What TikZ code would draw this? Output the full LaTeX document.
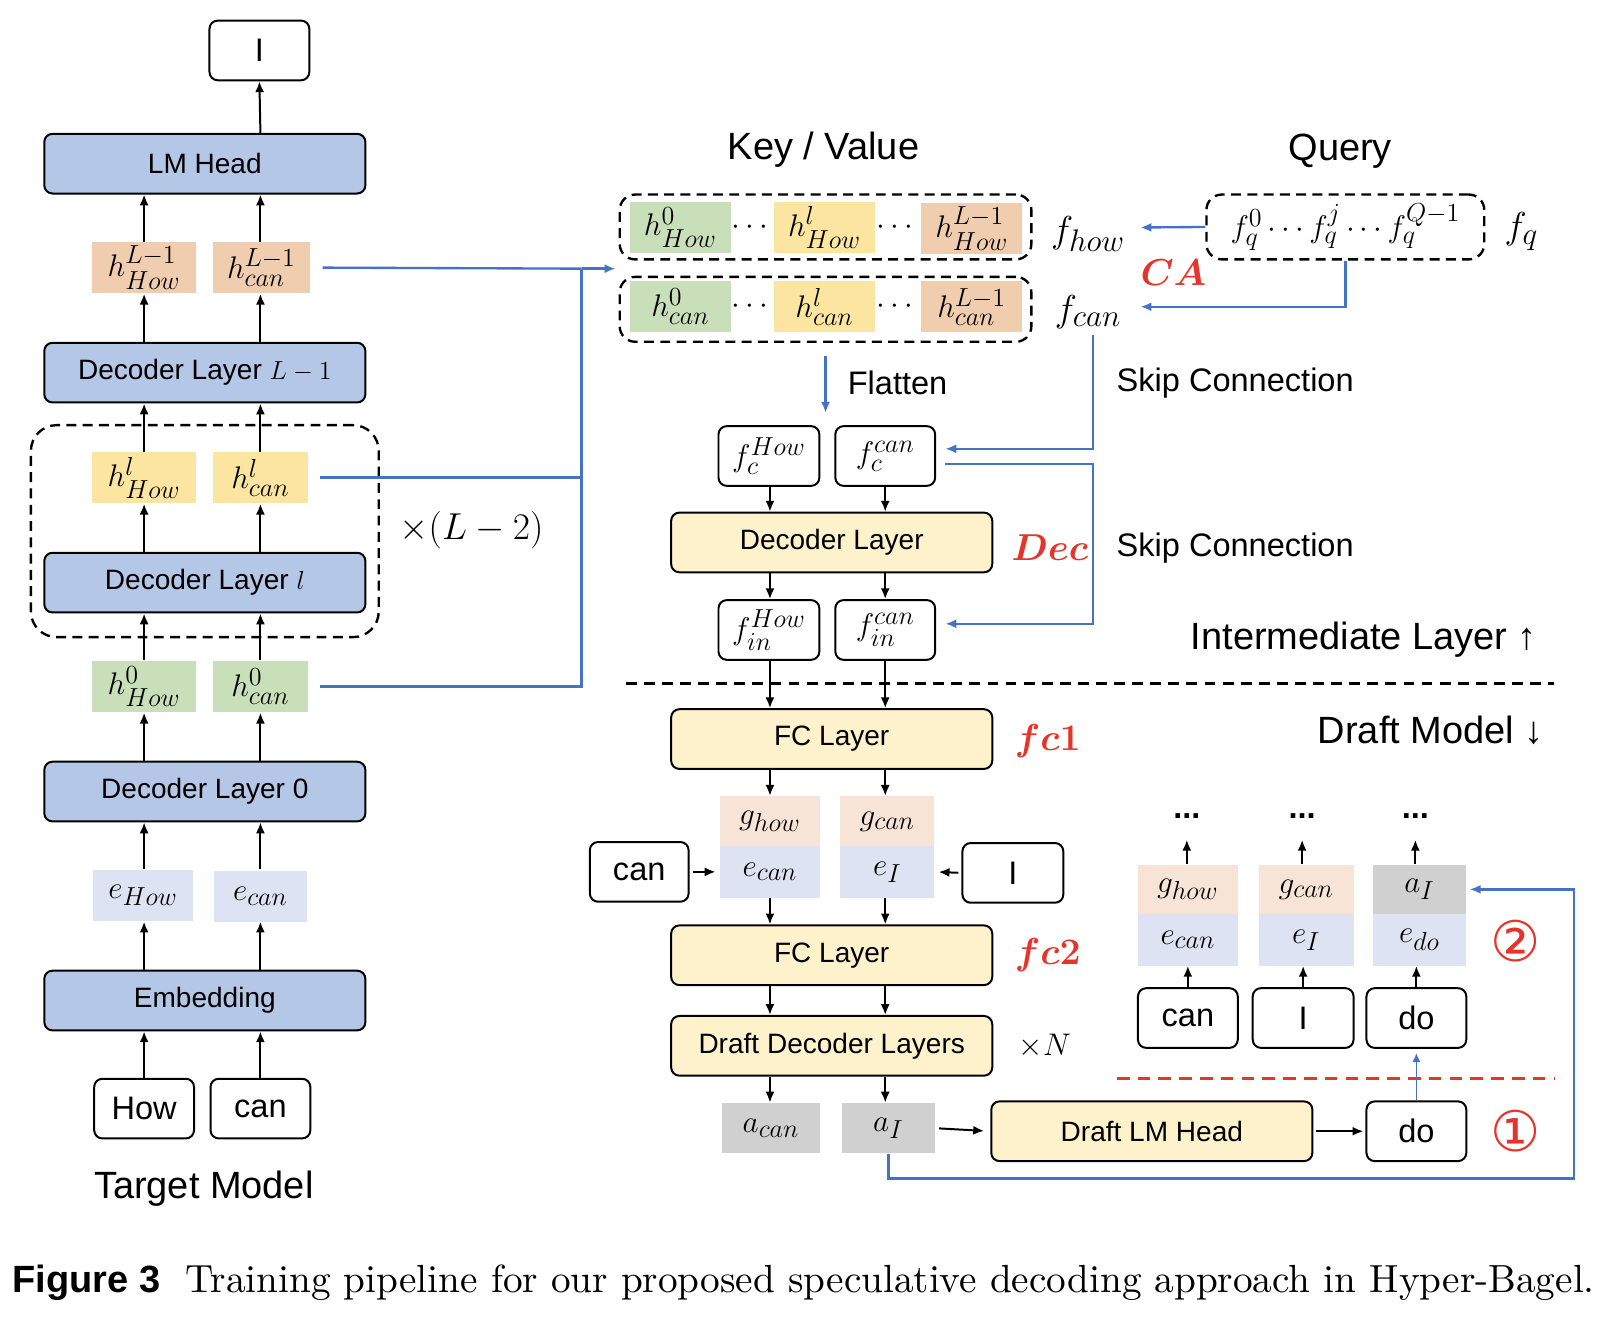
\documentclass[tikz,border=0pt]{standalone}
\usepackage{amsmath, amssymb}
\usepackage{fontspec}
\newfontfamily\lab{Liberation Sans}
\newfontfamily\sym{DejaVu Sans}
\newfontfamily\capfont{lmroman10-regular}[Extension=.otf]
\DeclareMathSizes{18}{18}{14.4}{11}
\DeclareMathSizes{19}{19}{15.2}{12}
\DeclareMathSizes{20}{20}{16}{12}
\usetikzlibrary{arrows.meta, positioning}
\definecolor{tgtblue}{HTML}{B4C7E7}
\definecolor{drfyellow}{HTML}{FEF2CD}
\definecolor{hpeach}{HTML}{F1CDB0}
\definecolor{hyellow}{HTML}{FBE5A0}
\definecolor{hgreen}{HTML}{C9DFB9}
\definecolor{elight}{HTML}{DDE3F2}
\definecolor{gpeach}{HTML}{F7E4D6}
\definecolor{agrey}{HTML}{D0D0D0}
\definecolor{lineblue}{HTML}{4472C4}
\definecolor{redlab}{HTML}{E5352A}

\begin{document}
\begin{tikzpicture}[x=0.02cm, y=-0.02cm,
  layer/.style={draw, rounded corners=0.16cm, line width=1.1pt, minimum width=6.24cm, minimum height=1.16cm, inner sep=0pt, font=\lab\fontsize{15.5}{18}\selectfont},
  tgt/.style={layer, fill=tgtblue},
  drf/.style={layer, fill=drfyellow},
  tok/.style={draw, rounded corners=0.16cm, line width=1.1pt, fill=white, minimum width=1.94cm, minimum height=1.16cm, inner sep=0pt, font=\lab\fontsize{18}{21}\selectfont},
  cell/.style={minimum width=1.96cm, minimum height=1cm, inner sep=0pt, font=\fontsize{19}{22}\selectfont},
  grp/.style={draw, dash pattern=on 5.5pt off 3.5pt, line width=1.3pt, rounded corners=0.3cm, minimum width=8cm, minimum height=1.26cm, inner sep=0pt, font=\fontsize{19}{22}\selectfont},
  arr/.style={-{Latex[length=6pt,width=5pt]}, line width=1.1pt},
  bl/.style={draw=lineblue, line width=1.3pt},
  bla/.style={bl, -{Latex[length=6pt,width=5pt]}},
  tag/.style={text=redlab, font=\fontsize{20}{25}\selectfont},
  title/.style={font=\lab\fontsize{21}{25}\selectfont},
  note/.style={font=\lab\fontsize{18}{21}\selectfont},
  mth/.style={font=\fontsize{20}{24}\selectfont},
  dots/.style={minimum height=0.9cm, inner sep=0pt, font=\lab\bfseries\fontsize{18}{21}\selectfont},
  circ/.style={text=redlab, font=\sym\fontsize{31}{34}\selectfont}]
\fill[white] (0,0) rectangle (1568,1288);
\useasboundingbox (0,0) rectangle (1568,1288);

% Target model
\node[tok] (outI) at (252,49) {I};
\node[tgt] (lmhead) at (199,159) {LM Head};
\node[cell, fill=hpeach, minimum width=2.02cm] (hLa) at (140,260) {$h^{L-1}_{How}$};
\node[cell, fill=hpeach, minimum width=1.88cm] (hLb) at (254,260) {$h^{L-1}_{can}$};
\node[tgt] (decL) at (199,362) {Decoder Layer $L-1$};
\node[grp, minimum width=6.76cm, minimum height=4.12cm, rounded corners=0.5cm] (loop) at (199,516) {};
\node[cell, fill=hyellow, minimum width=2.02cm] (hla) at (140,464) {$h^{l}_{How}$};
\node[cell, fill=hyellow, minimum width=1.84cm] (hlb) at (253,464) {$h^{l}_{can}$};
\node[tgt] (decl) at (199,566) {Decoder Layer $l$};
\node[cell, fill=hgreen, minimum width=2.02cm] (h0a) at (140,667) {$h^{0}_{How}$};
\node[cell, fill=hgreen, minimum width=1.84cm] (h0b) at (253,667) {$h^{0}_{can}$};
\node[tgt] (dec0) at (199,769) {Decoder Layer 0};
\node[cell, fill=elight, minimum width=1.94cm] (ea) at (139,870) {$e_{How}$};
\node[cell, fill=elight, minimum width=1.82cm] (eb) at (253,871) {$e_{can}$};
\node[tgt] (emb) at (199,972) {Embedding};
\node[tok] (tHow) at (140,1077) {How};
\node[tok] (tcan) at (253,1077) {can};
\node[title] (tgtname) at (198,1155) {Target Model};
\node[cell, font=\fontsize{20}{24}\selectfont] (rep) at (458,515) {$\times(L-2)$};

\coordinate (colA) at (140,0);
\coordinate (colB) at (253,0);
\foreach \a/\b in {tHow/emb, emb/ea, ea/dec0, dec0/h0a, h0a/decl, decl/hla, hla/decL, decL/hLa, hLa/lmhead} {
  \draw[arr] (\a.north -| colA) -- (\b.south -| colA);
  \draw[arr] (\a.north -| colB) -- (\b.south -| colB);
}
\draw[arr] (lmhead.north -| colB) -- (outI.south);

% hidden states to key / value
\coordinate (busT) at (565,261);
\coordinate (kvin) at (598,261);
\draw[bl] ([xshift=0.24cm]hLb.east) -- (busT);
\draw[bl] ([xshift=0.24cm]hlb.east) -- (hlb.east -| busT);
\draw[bl] ([xshift=0.24cm]h0b.east) -| (busT);
\draw[bla] (busT) -- (kvin);

% Key / Value and Query
\node[title] (kvtitle) at (800,145) {Key / Value};
\node[title] (qtitle) at (1302,147) {Query};
\node[grp] (kvHow) at (802,220.5) {};
\node[grp] (kvcan) at (802,300.5) {};
\node[cell, fill=hgreen] (kH0) at (661,221) {$h^{0}_{How}$};
\node[cell] (kHd1) at (731,221) {$\cdots$};
\node[cell, fill=hyellow] (kHl) at (801,221) {$h^{l}_{How}$};
\node[cell] (kHd2) at (872,221) {$\cdots$};
\node[cell, fill=hpeach] (kHL) at (944,222) {$h^{L-1}_{How}$};
\node[cell, fill=hgreen] (kC0) at (661,298) {$h^{0}_{can}$};
\node[cell] (kCd1) at (731,298) {$\cdots$};
\node[cell, fill=hyellow] (kCl) at (801,298) {$h^{l}_{can}$};
\node[cell] (kCd2) at (872,298) {$\cdots$};
\node[cell, fill=hpeach] (kCL) at (944,298) {$h^{L-1}_{can}$};
\node[mth] (fhow) at (1057,227) {$f_{how}$};
\node[mth] (fcan) at (1057,303) {$f_{can}$};
\node[grp, minimum width=5.4cm] (qbox) at (1307,220.5) {$f_q^{0}\cdots f_q^{j}\cdots f_q^{Q-1}$};
\node[mth] (fq) at (1478,225) {$f_q$};
\node[tag] (ca) at (1140,265) {$\boldsymbol{CA}$};
\coordinate (caH) at (1108,221);
\coordinate (caC) at (1108,298);
\draw[bla] (qbox.west) -- (caH);
\draw[bla] (qbox.south) |- (caC);

% Intermediate layer
\node[tok, minimum width=1.96cm] (fcH) at (747,443) {$f_c^{How}$};
\node[tok] (fcC) at (860,443) {$f_c^{can}$};
\node[drf] (dec) at (808,527) {Decoder Layer};
\node[tag] (dectag) at (1020,532) {$\boldsymbol{Dec}$};
\node[tok, minimum width=1.96cm] (finH) at (747,612) {$f_{in}^{How}$};
\node[tok] (finC) at (860,612) {$f_{in}^{can}$};
\node[note] (flat) at (872,372) {Flatten};
\node[note] (skip1) at (1200,372) {Skip Connection};
\node[note] (skip2) at (1200,532) {Skip Connection};
\node[title] (inter) at (1325,621) {Intermediate Layer ↑};
\draw[bla] ([yshift=-0.26cm]kvcan.south) -- ([yshift=0.24cm]kvcan.south |- fcH.north);
\coordinate (skip) at (1062,530);
\draw[bla] (fcan.south -| skip) |- ([xshift=0.18cm,yshift=0.14cm]fcC.east);
\draw[bla] ([xshift=0.18cm,yshift=-0.16cm]fcC.east) -| (skip) |- ([xshift=0.18cm,yshift=0.12cm]finC.east);

\coordinate (sepL) at (608,664);
\coordinate (sepR) at (1510,664);
\draw[line width=1.3pt, dash pattern=on 6pt off 4pt] (sepL) -- (sepR);

% Draft model
\node[drf] (fc1) at (808,718) {FC Layer};
\node[tag] (fc1tag) at (1018,720) {$\boldsymbol{fc1}$};
\node[title] (draftname) at (1390,709) {Draft Model ↓};
\node[cell, fill=gpeach, minimum width=1.94cm, minimum height=0.98cm] (gH) at (748,798) {$g_{how}$};
\node[cell, fill=elight, minimum width=1.94cm] (eC) at (748,847) {$e_{can}$};
\node[cell, fill=gpeach, minimum width=1.82cm, minimum height=0.98cm] (gC) at (862,798) {$g_{can}$};
\node[cell, fill=elight, minimum width=1.82cm] (eI) at (862,847) {$e_I$};
\node[tok, minimum width=1.92cm] (dcan) at (621,847) {can};
\node[tok, minimum width=1.96cm] (dI) at (984,848) {I};
\node[drf] (fc2) at (808,928) {FC Layer};
\node[tag] (fc2tag) at (1018,928) {$\boldsymbol{fc2}$};
\node[drf] (ddl) at (808,1016) {Draft Decoder Layers};
\node[cell] (nrep) at (1015,1016) {$\times N$};
\node[cell, fill=agrey, minimum width=1.92cm, minimum height=0.98cm] (aC) at (749,1096) {$a_{can}$};
\node[cell, fill=agrey, minimum width=1.8cm, minimum height=0.98cm] (aI) at (863,1096) {$a_I$};
\node[drf] (dlm) at (1119,1099) {Draft LM Head};
\node[tok] (dodo) at (1376,1099) {do};
\node[circ] (one) at (1472,1099) {①};

\coordinate (colC) at (748,0);
\coordinate (colD) at (860,0);
\foreach \a/\b in {fcH/dec, dec/finH, finH/fc1, fc1/gH, eC/fc2, fc2/ddl, ddl/aC} {
  \draw[arr] (\a.south -| colC) -- (\b.north -| colC);
  \draw[arr] (\a.south -| colD) -- (\b.north -| colD);
}
\draw[arr, shorten <=0.06cm, shorten >=0.08cm] (dcan.east) -- (eC.west);
\draw[arr, shorten <=0.06cm, shorten >=0.08cm] (dI.west) -- (eI.east);
\draw[arr, shorten <=0.08cm, shorten >=0.12cm] (aI.east) -- (dlm.west);
\draw[arr, shorten <=0.06cm, shorten >=0.04cm] (dlm.east) -- (dodo.west);

% next step
\node[cell, fill=gpeach, minimum width=1.94cm, minimum height=0.96cm] (gR1) at (1154,864) {$g_{how}$};
\node[cell, fill=elight, minimum width=1.94cm] (eR1) at (1154,913) {$e_{can}$};
\node[cell, fill=gpeach, minimum width=1.84cm, minimum height=0.96cm] (gR2) at (1269,864) {$g_{can}$};
\node[cell, fill=elight, minimum width=1.84cm] (eR2) at (1269,913) {$e_I$};
\node[cell, fill=agrey, minimum width=1.82cm, minimum height=0.96cm] (aR) at (1379,864) {$a_I$};
\node[cell, fill=elight, minimum width=1.82cm] (eR3) at (1379,913) {$e_{do}$};
\node[tok] (rcan) at (1154,989) {can};
\node[tok, minimum width=1.96cm] (rI) at (1266,989) {I};
\node[tok] (rdo) at (1376,989) {do};
\node[dots] (dt1) at (1153,793) {...};
\node[dots] (dt2) at (1265,793) {...};
\node[dots] (dt3) at (1375,793) {...};
\node[circ] (two) at (1472,914) {②};
\foreach \t/\e/\g/\d in {rcan/eR1/gR1/dt1, rI/eR2/gR2/dt2, rdo/eR3/aR/dt3} {
  \draw[arr] (\t.north) -- (\t.north |- \e.south);
  \draw[arr] (\d.south |- \g.north) -- (\d.south);
}
\coordinate (rsepL) at (1085,1048);
\coordinate (rsepR) at (1510,1048);
\draw[redlab, line width=1.5pt, dash pattern=on 7pt off 4.5pt] (rsepL) -- (rsepR);
\draw[draw=lineblue, line width=0.9pt, -{Latex[length=5pt,width=4.5pt]}, shorten >=0.08cm] (dodo.north) -- (rdo.south);
\coordinate (fb) at (1529,1145);
\draw[bla] (aI.south) |- (fb) |- ([xshift=0.06cm]aR.east);

% caption
\node[anchor=base west, inner sep=0pt, font=\lab\bfseries\fontsize{21}{24}\selectfont] (capfig) at (12,1256) {Figure 3};
\node[anchor=base west, inner sep=0pt, font=\capfont\fontsize{21.7}{26}\selectfont] (captxt) at (180,1256) {Training pipeline for our proposed speculative decoding approach in Hyper-Bagel.};
\end{tikzpicture}
\end{document}
